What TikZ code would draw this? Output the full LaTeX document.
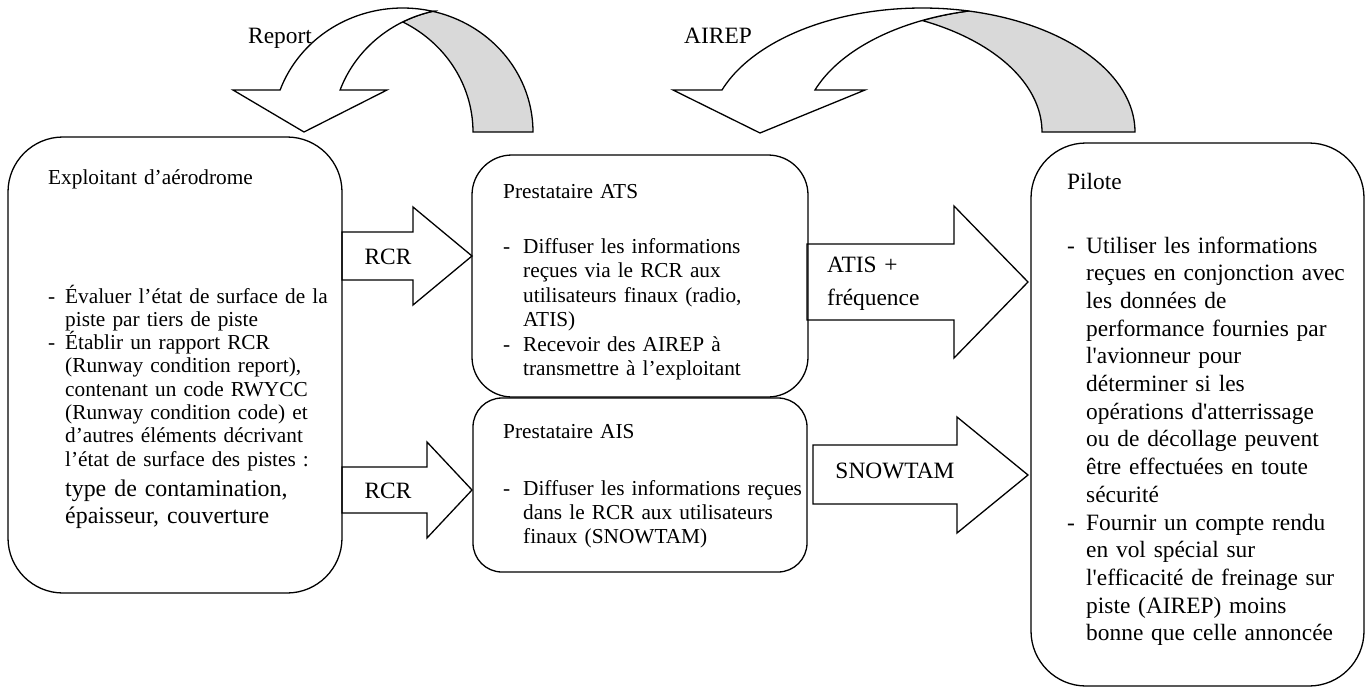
\documentclass[tikz,border=0pt]{standalone}
\usepackage{fontspec}
\setmainfont{Liberation Serif}
\definecolor{backgray}{RGB}{217,217,217}
\newcommand\dsh[1]{\makebox[#1][l]{-}}
\newcommand\ind[1]{\hspace*{#1}}
\newcommand\apos{\textquotesingle}
\tikzset{
  box/.style={draw, line width=1.3pt, inner sep=0pt},
  blockarrow/.style={draw, fill=white, line width=1.3pt, line join=miter},
  backband/.style={draw, fill=backgray, line width=1.3pt, line join=miter},
  txt/.style={anchor=base west, inner sep=0pt, align=left, text width=#1},
  txt/.default=300pt,
  lbl/.style={anchor=base, inner sep=0pt, font=\rmfamily\fontsize{23.4}{27.7}\selectfont},
  smallA/.style={font=\rmfamily\fontsize{21.3}{23.3}\selectfont},
  smallB/.style={font=\rmfamily\fontsize{21.3}{24.5}\selectfont},
  smallC/.style={font=\rmfamily\fontsize{21.3}{24}\selectfont},
  bigA/.style={font=\rmfamily\fontsize{23.9}{27.5}\selectfont},
  big/.style={font=\rmfamily\fontsize{23.4}{27.7}\selectfont},
  twoline/.style={font=\rmfamily\fontsize{23.4}{33}\selectfont}
}
\begin{document}
\begin{tikzpicture}[x=1pt,y=-1pt]
\useasboundingbox (0,0) rectangle (1365,688);

% ---------- curved arrow "Report" ----------
\draw[backband] plot[domain=76.7:0, samples=40, variable=\t] ({402.7+130.3*cos(\t)},{132-124*sin(\t)})
  -- (473,132)
  -- plot[domain=0:62.6, samples=40, variable=\t] ({342.7+130.3*cos(\t)},{132-124*sin(\t)})
  -- plot[domain=117.4:103.3, samples=10, variable=\t] ({462.7+130.3*cos(\t)},{132-124*sin(\t)})
  -- cycle;
\draw[blockarrow] plot[domain=160.2:76.7, samples=50, variable=\t] ({402.7+130.3*cos(\t)},{132-124*sin(\t)})
  -- plot[domain=103.3:160.2, samples=40, variable=\t] ({462.7+130.3*cos(\t)},{132-124*sin(\t)})
  -- (387,90) -- (304,132) -- (233,90) -- cycle;

% ---------- curved arrow "AIREP" ----------
\draw[backband] plot[domain=77.4:0, samples=40, variable=\t] ({922.2+212.8*cos(\t)},{132-124*sin(\t)})
  -- (1042,132)
  -- plot[domain=0:64.1, samples=40, variable=\t] ({829.2+212.8*cos(\t)},{132-124*sin(\t)})
  -- plot[domain=115.9:102.6, samples=10, variable=\t] ({1015.2+212.8*cos(\t)},{132-124*sin(\t)})
  -- cycle;
\draw[blockarrow] plot[domain=160.2:77.4, samples=50, variable=\t] ({922.2+212.8*cos(\t)},{132-124*sin(\t)})
  -- plot[domain=102.6:160.2, samples=40, variable=\t] ({1015.2+212.8*cos(\t)},{132-124*sin(\t)})
  -- (865,90) -- (760,133) -- (673,90) -- cycle;

\node[lbl] (report) at (280,43) {Report};
\node[lbl] (airep) at (718,43) {AIREP};

% ---------- block arrows ----------
\draw[blockarrow] (342,232) -- (413,232) -- (413,207) -- (472,256) -- (413,305) -- (413,280) -- (342,280) -- cycle;
\draw[blockarrow] (342,467) -- (427,467) -- (427,442) -- (472,490) -- (427,538) -- (427,513) -- (342,513) -- cycle;
\draw[blockarrow] (807,244) -- (954,244) -- (954,206) -- (1028,282) -- (954,358) -- (954,320) -- (807,320) -- cycle;
\draw[blockarrow] (813,445) -- (957,445) -- (957,417) -- (1028,475) -- (957,533) -- (957,504) -- (813,504) -- cycle;

\node[lbl] (rcr1) at (388,264) {RCR};
\node[lbl] (rcr2) at (388,498) {RCR};
\node[twoline, txt=140pt] (atislbl) at (827,272) {ATIS +\\fréquence};
\node[lbl] (snowtam) at (895,478) {SNOWTAM};

% ---------- boxes ----------
\node[box, minimum width=334pt, minimum height=456pt, rounded corners=55pt] (exp) at (175,365) {};
\node[box, minimum width=336pt, minimum height=242pt, rounded corners=40pt] (ats) at (640,276) {};
\node[box, minimum width=334pt, minimum height=174pt, rounded corners=29pt] (ais) at (640,485) {};
\node[box, minimum width=333pt, minimum height=543pt, rounded corners=55pt] (pil) at (1197.5,414.5) {};

% ---------- texts ----------
\node[smallA, txt=300pt] (exptitle) at (48,184) {Exploitant d’aérodrome};
\node[smallA, txt=290pt] (expbul) at (48,303) {\dsh{17pt}Évaluer l’état de surface de la\\\ind{17pt}piste par tiers de piste\\\dsh{17pt}Établir un rapport RCR\\\ind{17pt}(Runway condition report),\\\ind{17pt}contenant un code RWYCC\\\ind{17pt}(Runway condition code) et\\\ind{17pt}d’autres éléments décrivant\\\ind{17pt}l’état de surface des pistes :};
\node[bigA, txt=270pt] (expbul2) at (65,496) {type de contamination,\\épaisseur, couverture};

\node[smallB, txt=300pt] (atstitle) at (503,198) {Prestataire ATS};
\node[smallB, txt=300pt] (atsbul) at (503,253) {\dsh{20pt}Diffuser les informations\\\ind{20pt}reçues via le RCR aux\\\ind{20pt}utilisateurs finaux (radio,\\\ind{20pt}ATIS)\\\dsh{20pt}Recevoir des AIREP à\\\ind{20pt}transmettre à l’exploitant};

\node[smallC, txt=300pt] (aistitle) at (503,438) {Prestataire AIS};
\node[smallC, txt=300pt] (aisbul) at (503,495) {\dsh{20pt}Diffuser les informations reçues\\\ind{20pt}dans le RCR aux utilisateurs\\\ind{20pt}finaux (SNOWTAM)};

\node[big, txt=290pt] (piltitle) at (1067,189) {Pilote};
\node[big, txt=295pt] (pilbul) at (1067,253) {\dsh{19pt}Utiliser les informations\\\ind{19pt}reçues en conjonction avec\\\ind{19pt}les données de\\\ind{19pt}performance fournies par\\\ind{19pt}l\apos avionneur pour\\\ind{19pt}déterminer si les\\\ind{19pt}opérations d\apos atterrissage\\\ind{19pt}ou de décollage peuvent\\\ind{19pt}être effectuées en toute\\\ind{19pt}sécurité\\\dsh{19pt}Fournir un compte rendu\\\ind{19pt}en vol spécial sur\\\ind{19pt}l\apos efficacité de freinage sur\\\ind{19pt}piste (AIREP) moins\\\ind{19pt}bonne que celle annoncée};
\end{tikzpicture}
\end{document}
